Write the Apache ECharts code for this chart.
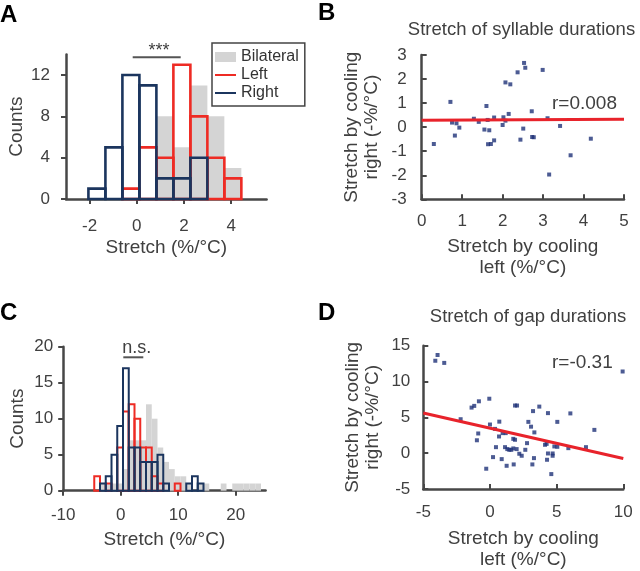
<!DOCTYPE html>
<html><head><meta charset="utf-8">
<script src="https://cdn.jsdelivr.net/npm/echarts@6/dist/echarts.min.js"></script>
<style>html,body{margin:0;padding:0;background:#fff}#chart{width:640px;height:571px}</style>
</head><body><div id="chart"></div>
<script>
// ---------- Panel A: syllable stretch histogram ----------
const binEdgesA = [-2.05, -1.33, -0.61, 0.11, 0.83, 1.55, 2.27, 2.99, 3.71, 4.43];
const bilateralA = [0, 0, 0, 0, 8, 5, 11, 8, 3];
const leftA      = [0, 0, 1, 5, 4, 13, 8, 4, 2];
const rightA     = [1, 5, 12, 11, 2, 2, 4, 0, 0];
const xTicksA = [-2, 0, 2, 4];
const yTicksA = [0, 4, 8, 12];

// ---------- Panel B: syllable scatter ----------
const pointsB = [[0.30,-0.70],[0.71,1.05],[0.75,0.19],[0.82,-0.35],[0.86,0.16],[0.93,-0.02],[1.29,0.35],[1.41,0.22],[1.55,-0.10],[1.60,0.88],[1.63,0.30],[1.67,-0.13],[1.64,-0.71],[1.71,-0.70],[1.79,0.40],[1.79,-0.55],[2.00,0.09],[2.02,0.41],[2.07,1.86],[2.07,0.27],[2.15,0.55],[2.19,1.78],[2.37,2.28],[2.44,-0.52],[2.51,-0.06],[2.53,2.67],[2.56,2.47],[2.72,0.66],[2.73,-0.41],[2.77,-0.42],[2.99,2.38],[3.11,0.37],[3.15,-1.97],[3.42,0.05],[3.68,-1.17],[4.18,-0.48]];
const fitB = [[0, 0.29], [5, 0.33]];
const xTicksB = [0, 1, 2, 3, 4, 5];
const yTicksB = [-3, -2, -1, 0, 1, 2, 3];

// ---------- Panel C: gap stretch histogram ----------
const binEdgesC = [-4.6,-3.6,-2.6,-1.6,-0.6,0.4,1.4,2.4,3.4,4.4,5.4,6.4,7.4,8.4,9.4,10.4,11.4,12.4,13.4,14.4,15.4,16.4,17.4,18.4,19.4,20.4,21.4,22.4,23.4,24.4];
const bilateralC = [0,1,1,1,1,3,7,7,7,12,10,6,4,3,2,2,1,0,1,1,0,0,1,0,1,1,1,1,1];
const leftC      = [2,0,1,0,6,11,12,10,6,6,2,1,0,0,1,0,0,0,0,0,0,0,0,0,0,0,0,0,0];
const rightC     = [0,1,2,5,9,17,6,6,4,4,4,5,1,0,0,0,1,2,1,0,0,0,0,0,0,0,0,0,0];
const xTicksC = [-10, 0, 10, 20];
const yTicksC = [0, 5, 10, 15, 20];

// ---------- Panel D: gap scatter ----------
const pointsD = [[-3.93,13.7],[-4.1,12.9],[-3.43,12.6],[9.95,11.4],[-1.38,6.36],[-1.18,6.6],[-0.83,7.24],[-0.05,7.6],[-2.2,4.74],[1.88,6.65],[2.03,6.65],[3.7,6.5],[3.23,5.87],[4.35,5.59],[6.03,5.55],[2.88,4.37],[5.05,4.37],[7.83,3.25],[0.0,4.0],[0.7,4.4],[-0.88,2.75],[-0.98,1.8],[3.08,3.7],[3.33,2.9],[0.95,2.8],[1.18,2.8],[0.68,2.33],[0.38,3.39],[1.75,2.0],[1.88,1.87],[2.78,1.4],[2.65,0.47],[4.13,1.17],[4.25,1.3],[4.83,0.94],[5.05,0.89],[5.88,0.7],[7.2,0.84],[0.45,0.84],[1.13,0.84],[1.3,0.57],[1.45,0.47],[1.6,0.47],[1.75,0.66],[2.0,0.57],[2.2,-0.08],[2.38,-0.36],[0.23,-0.55],[0.88,-0.83],[1.25,-1.76],[1.78,-1.57],[-0.28,-2.17],[3.18,-1.57],[3.3,-0.69],[4.28,-0.92],[4.35,-0.04],[4.7,-0.04],[4.7,-0.36],[4.6,-2.92]];
const fitD = [[-5, 5.6], [10, -0.75]];
const xTicksD = [-5, 0, 5, 10];
const yTicksD = [-5, 0, 5, 10, 15];

// ---------- styling ----------
const FONT = '"Liberation Sans", Arial, Helvetica, sans-serif';
const AX = '#474747';
const TXT = '#404040';
const RED = '#ee2b24';
const NAVY = '#1b355e';
const GREY = '#d4d4d4';
const DOT = '#1f3278';

function axis(o) {
  return {
    type: 'value', gridIndex: o.g, min: o.min, max: o.max,
    name: o.name, nameLocation: 'middle', nameGap: o.nameGap,
    nameTextStyle: { fontFamily: FONT, fontSize: 19, color: TXT, lineHeight: o.lh || 21 },
    axisLine: { show: true, onZero: false, lineStyle: { color: AX, width: 2.5 } },
    axisTick: { show: true, inside: o.inside, length: 5, customValues: o.ticks, lineStyle: { color: AX, width: 2 } },
    axisLabel: { show: true, customValues: o.ticks, margin: o.margin, fontFamily: FONT, fontSize: 17, color: TXT },
    splitLine: { show: false }
  };
}

function histData(edges, counts) {
  const out = [];
  counts.forEach((c, i) => { if (c > 0) out.push([edges[i], edges[i + 1], c]); });
  return out;
}
function histSeries(name, idx, edges, counts, style, z) {
  return {
    type: 'custom', name: name, xAxisIndex: idx, yAxisIndex: idx, z: z, silent: true,
    itemStyle: { color: style.fill && style.fill !== 'none' ? style.fill : style.stroke },
    data: histData(edges, counts),
    encode: { x: [0, 1], y: 2 },
    renderItem: function (params, api) {
      const p0 = api.coord([api.value(0), 0]);
      const p1 = api.coord([api.value(1), api.value(2)]);
      return {
        type: 'rect',
        shape: { x: p0[0], y: p1[1], width: p1[0] - p0[0], height: p0[1] - p1[1] },
        style: style
      };
    }
  };
}

const chart = echarts.init(document.getElementById('chart'), null, { renderer: 'canvas' });

const option = {
  animation: false,
  backgroundColor: '#ffffff',
  grid: [
    { left: 66, top: 54.4, width: 200.6, height: 144.6 },
    { left: 421.7, top: 55, width: 202.3, height: 144.3 },
    { left: 63.2, top: 346.7, width: 202.4, height: 144 },
    { left: 423.3, top: 345.7, width: 200, height: 143.6 }
  ],
  xAxis: [
    axis({ g: 0, min: -3, max: 5.5, ticks: xTicksA, inside: false, margin: 19, name: 'Stretch (%/°C)', nameGap: 38 }),
    axis({ g: 1, min: 0, max: 5, ticks: xTicksB, inside: true, margin: 14, name: 'Stretch by cooling\nleft (%/°C)', nameGap: 37 }),
    axis({ g: 2, min: -10, max: 25.2, ticks: xTicksC, inside: false, margin: 16, name: 'Stretch (%/°C)', nameGap: 39 }),
    axis({ g: 3, min: -5, max: 10, ticks: xTicksD, inside: true, margin: 15, name: 'Stretch by cooling\nleft (%/°C)', nameGap: 39 })
  ],
  yAxis: [
    axis({ g: 0, min: 0, max: 14, ticks: yTicksA, inside: false, margin: 16, name: 'Counts', nameGap: 38 }),
    axis({ g: 1, min: -3, max: 3, ticks: yTicksB, inside: true, margin: 15, name: 'Stretch by cooling\nright (-%/°C)', nameGap: 40, lh: 20 }),
    axis({ g: 2, min: 0, max: 20, ticks: yTicksC, inside: false, margin: 10, name: 'Counts', nameGap: 35 }),
    axis({ g: 3, min: -5, max: 15, ticks: yTicksD, inside: true, margin: 13, name: 'Stretch by cooling\nright (-%/°C)', nameGap: 41, lh: 20 })
  ],
  legend: {
    orient: 'vertical', left: 212, top: 43, padding: [6, 6, 5, 2], itemGap: 2,
    itemWidth: 21, itemHeight: 10, borderColor: '#444', borderWidth: 1.5,
    selectedMode: false,
    textStyle: { fontFamily: FONT, fontSize: 16, lineHeight: 16, color: '#333' },
    data: [
      { name: 'Bilateral', icon: 'rect' },
      { name: 'Left', itemStyle: { opacity: 0 } },
      { name: 'Right', itemStyle: { opacity: 0 } }
    ]
  },
  series: [
    { type: 'line', name: 'Left', xAxisIndex: 0, yAxisIndex: 0, data: [], symbol: 'none', lineStyle: { color: RED, width: 2.5 }, itemStyle: { color: RED } },
    { type: 'line', name: 'Right', xAxisIndex: 0, yAxisIndex: 0, data: [], symbol: 'none', lineStyle: { color: NAVY, width: 2.5 }, itemStyle: { color: NAVY } },
    histSeries('Bilateral', 0, binEdgesA, bilateralA, { fill: GREY, stroke: null }, 2),
    histSeries('leftA', 0, binEdgesA, leftA, { fill: 'none', stroke: RED, lineWidth: 2.6 }, 3),
    histSeries('rightA', 0, binEdgesA, rightA, { fill: 'none', stroke: NAVY, lineWidth: 2.6 }, 4),
    histSeries('bilateralC', 2, binEdgesC, bilateralC, { fill: GREY, stroke: null }, 2),
    histSeries('leftC', 2, binEdgesC, leftC, { fill: 'none', stroke: RED, lineWidth: 2 }, 3),
    histSeries('rightC', 2, binEdgesC, rightC, { fill: 'none', stroke: NAVY, lineWidth: 2 }, 4),
    { type: 'scatter', name: 'pointsB', xAxisIndex: 1, yAxisIndex: 1, data: pointsB, symbol: 'rect', symbolSize: 4, itemStyle: { color: DOT }, z: 2, silent: true },
    { type: 'line', name: 'fitB', xAxisIndex: 1, yAxisIndex: 1, data: fitB, symbol: 'none', lineStyle: { color: '#e8232b', width: 3 }, z: 3, silent: true },
    { type: 'scatter', name: 'pointsD', xAxisIndex: 3, yAxisIndex: 3, data: pointsD, symbol: 'rect', symbolSize: 4, itemStyle: { color: DOT }, z: 2, silent: true },
    { type: 'line', name: 'fitD', xAxisIndex: 3, yAxisIndex: 3, data: fitD, symbol: 'none', lineStyle: { color: '#e8232b', width: 3 }, z: 3, silent: true }
  ],
  graphic: [
    { type: 'text', x: 0, y: 15.3, style: { text: 'A', font: 'bold 24px ' + FONT, fill: '#000', align: 'left', verticalAlign: 'middle' } },
    { type: 'text', x: 318, y: 13.5, style: { text: 'B', font: 'bold 24px ' + FONT, fill: '#000', align: 'left', verticalAlign: 'middle' } },
    { type: 'text', x: 0, y: 313.3, style: { text: 'C', font: 'bold 24px ' + FONT, fill: '#000', align: 'left', verticalAlign: 'middle' } },
    { type: 'text', x: 318, y: 313, style: { text: 'D', font: 'bold 24px ' + FONT, fill: '#000', align: 'left', verticalAlign: 'middle' } },
    { type: 'text', x: 521.5, y: 30, style: { text: 'Stretch of syllable durations', font: '18.5px ' + FONT, fill: TXT, align: 'center', verticalAlign: 'middle' } },
    { type: 'text', x: 528, y: 316.5, style: { text: 'Stretch of gap durations', font: '18.5px ' + FONT, fill: TXT, align: 'center', verticalAlign: 'middle' } },
    { type: 'text', x: 552, y: 103.3, style: { text: 'r=0.008', font: '19px ' + FONT, fill: TXT, align: 'left', verticalAlign: 'middle' } },
    { type: 'text', x: 552, y: 362.5, style: { text: 'r=-0.31', font: '19px ' + FONT, fill: TXT, align: 'left', verticalAlign: 'middle' } },
    { type: 'text', x: 159, y: 50.8, style: { text: '***', font: '18px ' + FONT, fill: TXT, align: 'center', verticalAlign: 'middle' } },
    { type: 'line', shape: { x1: 132.7, y1: 57.3, x2: 180.7, y2: 57.3 }, style: { stroke: '#555', lineWidth: 2 } },
    { type: 'text', x: 136.7, y: 348, style: { text: 'n.s.', font: '18px ' + FONT, fill: TXT, align: 'center', verticalAlign: 'middle' } },
    { type: 'line', shape: { x1: 123.3, y1: 357.3, x2: 143.3, y2: 357.3 }, style: { stroke: '#555', lineWidth: 2 } }
  ]
};
chart.setOption(option);
</script>
</body></html>
